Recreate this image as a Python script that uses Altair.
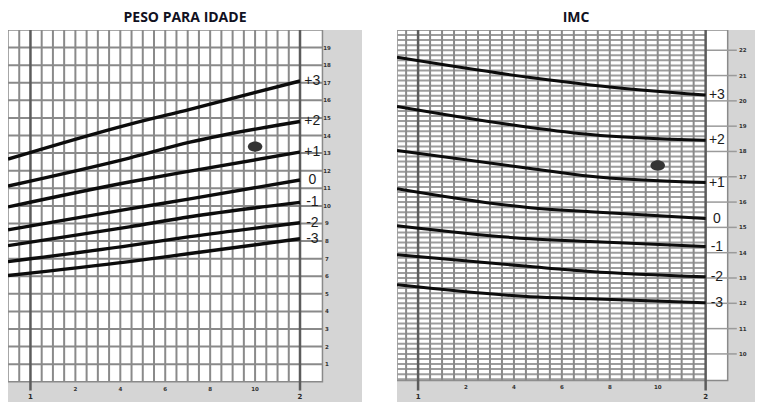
import altair as alt
import pandas as pd

# ---------------- data ----------------
z_names = ["+3", "+2", "+1", "0", "-1", "-2", "-3"]

# PESO PARA IDADE (kg) – months after 1 year
months_w = [-1, 4.4, 7.1, 12]
w_p3 = [12.66, 14.64, 15.49, 17.1]
w_p2 = [11.13, 12.72, 13.62, 14.8]
w_p1 = [9.94, 11.36, 11.98, 13.06]
w_0 = [8.64, 9.83, 10.40, 11.47]
w_m1 = [7.74, 8.81, 9.38, 10.2]
w_m2 = [6.83, 7.74, 8.25, 9.04]
w_m3 = [6.04, 6.83, 7.29, 8.13]

# IMC (kg/m2)
months_b = [-0.88, 4.68, 7.19, 12]
b_p3 = [21.72, 20.92, 20.63, 20.23]
b_p2 = [19.78, 18.95, 18.67, 18.44]
b_p1 = [18.04, 17.33, 17.02, 16.77]
b_0 = [16.53, 15.78, 15.62, 15.35]
b_m1 = [15.07, 14.55, 14.44, 14.24]
b_m2 = [13.92, 13.45, 13.26, 13.05]
b_m3 = [12.73, 12.26, 12.18, 12.02]

# child's measurement (month 10)
point_w_month, point_w_value = [10], [13.37]
point_b_month, point_b_value = [10], [17.45]

# tick labels
w_ticks = list(range(1, 20))
b_ticks = list(range(10, 23))
month_ticks = [2, 4, 6, 8, 10]
year_ticks = [0, 12]
year_texts = ["1", "2"]

# ---------------- styles ----------------
GRAY_BG = "#d5d5d5"
GRID = "#8a8a8a"
GRID_DENSE = "#9d9d9d"
THICK = "#5c5c5c"
CURVE = "#0c0c0c"
ELLIPSE = "M -1 0 A 1 0.72 0 1 0 1 0 A 1 0.72 0 1 0 -1 0 Z"


def curves_df(months, series):
    rows = []
    for name, vals in zip(z_names, series):
        for m, v in zip(months, vals):
            rows.append({"m": m, "v": v, "z": name})
    return pd.DataFrame(rows)


def panel(title, xdom, ydom, grid_box, col_right, hlines, h_x2, hstyle,
          ext_lines, ext_x2, vlines, thick_y0, months, series, label_x,
          pt_m, pt_v, yticks, ytick_x, xlab_y, ylab_y, width, height, curve_w):
    X = alt.Scale(domain=xdom, nice=False, zero=False)
    Y = alt.Scale(domain=ydom, nice=False, zero=False)
    gx0, gx1, gy0, gy1 = grid_box

    def xe(f="x"):
        return alt.X(f + ":Q", scale=X, axis=None)

    def ye(f="y"):
        return alt.Y(f + ":Q", scale=Y, axis=None)

    bg = alt.Chart(pd.DataFrame([{"x": xdom[0], "x2": xdom[1], "y": ydom[0], "y2": ydom[1]}])).mark_rect(
        color=GRAY_BG, clip=True).encode(x=xe(), x2="x2:Q", y=ye(), y2="y2:Q")
    white = alt.Chart(pd.DataFrame([{"x": gx0, "x2": col_right, "y": gy0, "y2": gy1}])).mark_rect(
        color="white", stroke=GRID, strokeWidth=1.5, clip=True).encode(x=xe(), x2="x2:Q", y=ye(), y2="y2:Q")

    hdf = pd.DataFrame({"y": hlines, "x": gx0, "x2": h_x2})
    hr = alt.Chart(hdf).mark_rule(color=hstyle[0], strokeWidth=hstyle[1], clip=True).encode(
        x=xe(), x2="x2:Q", y=ye())
    layers = [bg, white, hr]
    if ext_lines:
        edf = pd.DataFrame({"y": ext_lines, "x": gx1, "x2": ext_x2})
        layers.append(alt.Chart(edf).mark_rule(color="#9a9a9a", strokeWidth=1.5, clip=True).encode(
            x=xe(), x2="x2:Q", y=ye()))
    vdf = pd.DataFrame({"x": vlines, "y": gy0, "y2": gy1})
    layers.append(alt.Chart(vdf).mark_rule(color=GRID, strokeWidth=2, clip=True).encode(
        x=xe(), y=ye(), y2="y2:Q"))
    tdf = pd.DataFrame({"x": year_ticks, "y": thick_y0, "y2": gy1})
    layers.append(alt.Chart(tdf).mark_rule(color=THICK, strokeWidth=2.5, clip=True).encode(
        x=xe(), y=ye(), y2="y2:Q"))

    cdf = curves_df(months, series)
    layers.append(alt.Chart(cdf).mark_line(color=CURVE, strokeWidth=curve_w, interpolate="monotone", clip=True).encode(
        x=xe("m"), y=ye("v"), detail="z:N"))

    ldf = pd.DataFrame({"z": z_names, "m": label_x, "v": [s[-1] for s in series]})
    layers.append(alt.Chart(ldf).mark_text(font="Liberation Sans", fontSize=14, color="#1c1c1c",
                                           align="center", baseline="middle", clip=True).encode(
        x=xe("m"), y=ye("v"), text="z:N"))

    pdf = pd.DataFrame({"m": pt_m, "v": pt_v})
    layers.append(alt.Chart(pdf).mark_point(shape=ELLIPSE, size=210, filled=True, color="#353535",
                                            opacity=1, clip=True).encode(x=xe("m"), y=ye("v")))

    ytdf = pd.DataFrame({"t": [str(t) for t in yticks], "v": yticks, "m": ytick_x})
    layers.append(alt.Chart(ytdf).mark_text(font="DejaVu Sans", fontSize=5.5, fontWeight="bold",
                                            color="#333333", align="center", baseline="middle", clip=True).encode(
        x=xe("m"), y=ye("v"), text="t:N"))

    xtdf = pd.DataFrame({"t": [str(t) for t in month_ticks], "m": month_ticks, "v": xlab_y})
    layers.append(alt.Chart(xtdf).mark_text(font="DejaVu Sans", fontSize=5.5, fontWeight="bold",
                                            color="#333333", align="center", baseline="middle", clip=True).encode(
        x=xe("m"), y=ye("v"), text="t:N"))
    ytxt = pd.DataFrame({"t": year_texts, "m": year_ticks, "v": ylab_y})
    layers.append(alt.Chart(ytxt).mark_text(font="DejaVu Sans", fontSize=7, fontWeight="bold",
                                            color="#2a2a2a", align="center", baseline="middle", clip=True).encode(
        x=xe("m"), y=ye("v"), text="t:N"))

    return alt.layer(*layers).properties(
        width=width, height=height,
        title=alt.TitleParams(title, font="Open Sans", fontSize=14, fontWeight="bold",
                              color="#111122", anchor="middle", offset=5))


left_v = [m / 2 for m in range(-1, 24) if m != 0]
left = panel(
    "PESO PARA IDADE",
    xdom=[-1, 14.76], ydom=[-1.15, 20],
    grid_box=(-1, 12, 0, 20), col_right=13,
    hlines=w_ticks, h_x2=13, hstyle=(GRID, 2),
    ext_lines=None, ext_x2=None,
    vlines=left_v, thick_y0=-0.5,
    months=months_w, series=[w_p3, w_p2, w_p1, w_0, w_m1, w_m2, w_m3], label_x=12.55,
    pt_m=point_w_month, pt_v=point_w_value,
    yticks=w_ticks, ytick_x=13.2, xlab_y=-0.4, ylab_y=-0.85,
    width=354, height=372, curve_w=3.4)

right_v = [m / 2 for m in range(-1, 24) if m != 0]
dense = [round(9.0 + 0.2 * i, 2) for i in range(0, 70)]
right = panel(
    "IMC",
    xdom=[-0.88, 14.06], ydom=[8.1, 22.8],
    grid_box=(-0.88, 12, 8.95, 22.8), col_right=12.92,
    hlines=dense, h_x2=12, hstyle=(GRID_DENSE, 2),
    ext_lines=b_ticks, ext_x2=13.3,
    vlines=right_v, thick_y0=8.55,
    months=months_b, series=[b_p3, b_p2, b_p1, b_0, b_m1, b_m2, b_m3], label_x=12.47,
    pt_m=point_b_month, pt_v=point_b_value,
    yticks=b_ticks, ytick_x=13.55, xlab_y=8.7, ylab_y=8.3,
    width=358, height=372, curve_w=3)

chart = alt.hconcat(left, right, spacing=35).properties(
    padding={"top": 3, "left": 0, "right": 0, "bottom": 0}
).configure_view(stroke=None)
chart.save("out.html", embed_options={"renderer": "svg", "actions": False})
